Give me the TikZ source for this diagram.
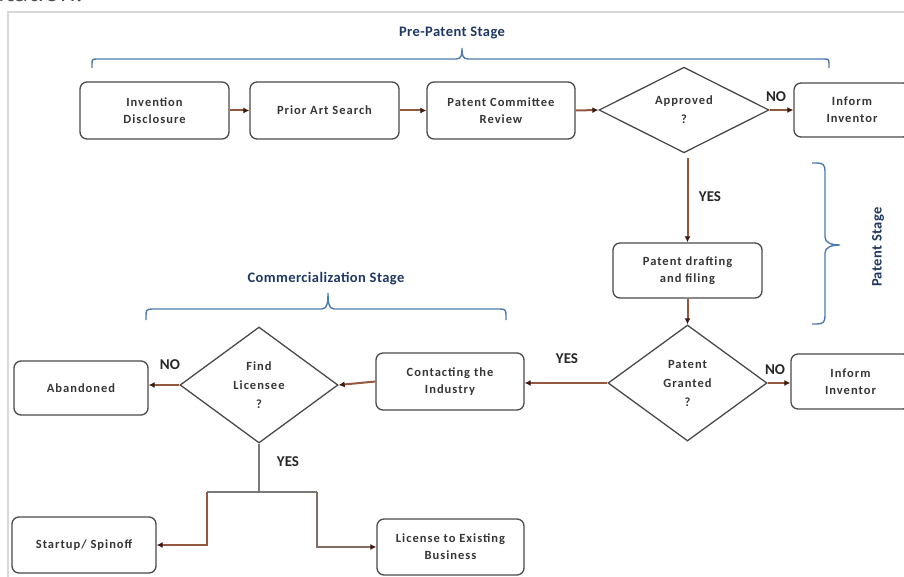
\documentclass[tikz,border=0pt]{standalone}
\usepackage{fontspec}
\setmainfont{Carlito}
\newfontfamily\boxfont[LetterSpace=8]{Carlito}
\newfontfamily\stagefont[LetterSpace=3]{Carlito}
\newfontfamily\pagefont{Open Sans}
\usetikzlibrary{shapes.geometric,arrows.meta,calc}

\definecolor{boxline}{HTML}{4A4A4A}
\definecolor{boxtext}{HTML}{363636}
\definecolor{flow}{HTML}{94583E}
\definecolor{flowhead}{HTML}{3C1A10}
\definecolor{bracec}{HTML}{4E7BAE}
\definecolor{stagec}{HTML}{1F3864}
\definecolor{framec}{HTML}{D9D9D9}
\definecolor{stemc}{HTML}{7A7A7A}

\begin{document}
\begin{tikzpicture}[x=1pt,y=-1pt,
  stepbox/.style={draw=boxline, line width=1.3pt, rounded corners=7pt,
    text=boxtext, font=\boxfont\bfseries\fontsize{12.5}{17}\selectfont,
    align=center, inner sep=0pt},
  decision/.style={draw=boxline, line width=1.3pt, diamond, inner sep=0pt,
    text=boxtext, font=\boxfont\bfseries\fontsize{12.5}{19}\selectfont,
    align=center},
  flowarr/.style={draw=flow, line width=2pt,
    -{Latex[length=6pt,width=6pt,color=flowhead]}},
  stemline/.style={draw=stemc, line width=1.6pt},
  answer/.style={font=\bfseries\fontsize{15}{18}\selectfont, text=black!85},
  stagebrace/.style={draw=bracec, line width=1.4pt},
  stagelabel/.style={text=stagec, font=\stagefont\bfseries\fontsize{14.5}{16}\selectfont}]

% canvas and surrounding page
\fill[white] (0,0) rectangle (904,577);
\useasboundingbox (0,0) rectangle (904,577);
\node[anchor=base west, inner sep=0pt, text=black!70,
      font=\pagefont\fontsize{26}{28}\selectfont] (pagetext) at (-2,2) {itation.};
\draw[framec, line width=1.5pt] (8,580) -- (8,12) -- (910,12);

% pre-patent row
\node[stepbox, minimum width=149pt, minimum height=57pt] (inv) at (154.5,110.5) {Invention\\Disclosure};
\node[stepbox, minimum width=149pt, minimum height=57pt] (prior) at (324.5,110.5) {Prior Art Search};
\node[stepbox, minimum width=148pt, minimum height=57pt] (pcr) at (501,110.5) {Patent Committee\\Review};
\node[decision, minimum width=170pt, minimum height=85pt] (appr) at (684,110) {Approved\\?};
\node[stepbox, minimum width=116pt, minimum height=54pt] (inf1) at (852,110) {Inform\\Inventor};

% patent stage
\node[stepbox, minimum width=149pt, minimum height=55pt] (draft) at (687.5,270.5) {Patent drafting\\and filing};
\node[decision, minimum width=159pt, minimum height=116pt] (grant) at (687.5,383) {Patent\\Granted\\?};
\node[stepbox, minimum width=119pt, minimum height=55pt] (inf2) at (850.5,381.5) {Inform\\Inventor};

% commercialization stage
\node[stepbox, minimum width=148pt, minimum height=57pt] (contact) at (450,381.5) {Contacting the\\Industry};
\node[decision, minimum width=158pt, minimum height=116pt] (find) at (259,385) {Find\\Licensee\\?};
\node[stepbox, minimum width=134pt, minimum height=54pt] (aband) at (81,388) {Abandoned};
\node[stepbox, minimum width=144pt, minimum height=56pt] (startup) at (84,545) {Startup/ Spinoff};
\node[stepbox, minimum width=147pt, minimum height=56pt] (license) at (450.5,547) {License to Existing\\Business};

% connectors
\draw[flowarr] (inv.east) -- (prior.west);
\draw[flowarr] (prior.east) -- (pcr.west);
\draw[flowarr] (pcr.east) -- (appr.west);
\draw[flowarr] (appr.east) -- (inf1.west);
\draw[flowarr, shorten <=5pt] (appr.south -| draft.north) -- (draft.north);
\draw[flowarr] (draft.south) -- (grant.north);
\draw[flowarr] (grant.east) -- (grant.east -| inf2.west);
\draw[flowarr] (grant.west) -- (grant.west -| contact.east);
\draw[flowarr] (contact.west) -- (find.east);
\draw[flowarr] (find.west) -- (find.west -| aband.east);

\coordinate (splitL) at (207,492);
\coordinate (splitR) at (317,492);
\draw[stemline] (find.south) -- (find.south |- splitL);
\draw[stemline] (splitL) -- (splitR);
\draw[flowarr] (splitL) |- (startup.east);
\draw[flowarr, draw=stemc!60!flow] (splitR) |- (license.west);

% answers
\node[answer] (no1) at (776,97) {NO};
\node[answer] (yes1) at (710,197) {YES};
\node[answer] (no2) at (775,370) {NO};
\node[answer] (yes2) at (567,359) {YES};
\node[answer] (no3) at (170,365) {NO};
\node[answer] (yes3) at (288,462) {YES};

% stage braces: straight runs with small curled ends and a short tip
\coordinate (preL) at (92,68);
\coordinate (preTip) at (462,48);
\coordinate (preR) at (829,68);
\draw[stagebrace]
  (preL) -- ++(0,-3) .. controls ++(0,-6) and ++(-6,0) .. ++(6,-6)
  -- ($(preTip)+(-6,11)$) .. controls ++(6,0) and ++(0,6) .. (preTip)
  .. controls ++(0,6) and ++(-6,0) .. ($(preTip)+(6,11)$)
  -- ($(preR)+(-6,-9)$) .. controls ++(6,0) and ++(0,-6) .. ($(preR)+(0,-3)$) -- (preR);
\node[stagelabel] (prelab) at (452,33) {Pre-Patent Stage};

\coordinate (patT) at (812,163);
\coordinate (patTip) at (840,245);
\coordinate (patB) at (812,324);
\draw[stagebrace]
  (patT) -- ++(5,0) .. controls ++(6,0) and ++(0,-6) .. ++(8,8)
  -- ($(patTip)+(-15,-8)$) .. controls ++(0,6) and ++(-8,0) .. (patTip)
  .. controls ++(-8,0) and ++(0,-6) .. ($(patTip)+(-15,8)$)
  -- ($(patB)+(13,-8)$) .. controls ++(0,6) and ++(6,0) .. ($(patB)+(5,0)$) -- (patB);
\node[stagelabel, rotate=90] (patlab) at (878,247) {Patent Stage};

\coordinate (comL) at (146,320);
\coordinate (comTip) at (328,293);
\coordinate (comR) at (506,320);
\draw[stagebrace]
  (comL) -- ++(0,-4) .. controls ++(0,-5) and ++(-6,0) .. ++(6,-7)
  -- ($(comTip)+(-6,16)$) .. controls ++(6,0) and ++(0,7) .. (comTip)
  .. controls ++(0,7) and ++(-6,0) .. ($(comTip)+(6,16)$)
  -- ($(comR)+(-6,-11)$) .. controls ++(6,0) and ++(0,-5) .. ($(comR)+(0,-4)$) -- (comR);
\node[stagelabel] (comlab) at (326,279) {Commercialization Stage};
\end{tikzpicture}
\end{document}
